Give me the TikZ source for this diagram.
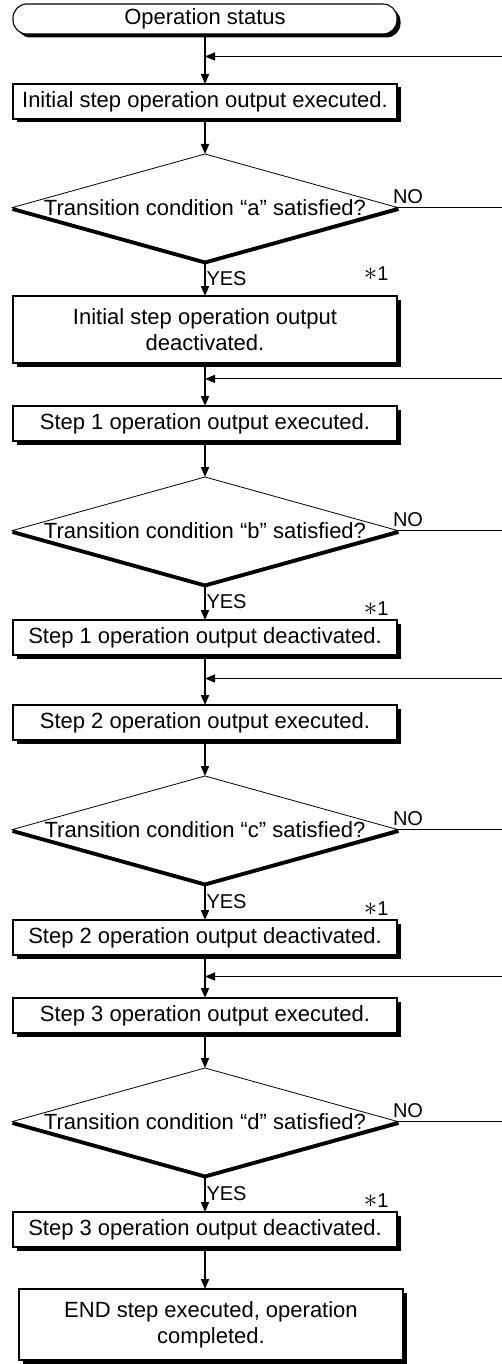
\documentclass[tikz,border=0pt]{standalone}
\usepackage{fontspec}
\setmainfont{Liberation Sans}
\usetikzlibrary{arrows.meta,positioning,shapes.geometric,shadows,calc}

\begin{document}
\begin{tikzpicture}[
  x=1pt,y=-1pt,
  node distance=36pt,
  font=\fontsize{22pt}{26pt}\selectfont,
  every node/.append style={outer sep=0pt},
  boxshadow/.style={drop shadow={shadow xshift=3.5pt,shadow yshift=-3.5pt,fill=black,opacity=1}},
  stepbox/.style={draw,line width=1.1pt,fill=white,boxshadow,minimum width=384pt,minimum height=35pt,inner sep=2pt,align=center},
  term/.style={stepbox,rounded corners=14pt,minimum height=30pt},
  cond/.style={draw,diamond,line width=0.8pt,fill=white,minimum width=385pt,minimum height=107pt,inner sep=0pt},
  condedge/.style={line width=3.6pt,line join=miter},
  flow/.style={line width=1.8pt,-{Triangle[length=10pt,width=8pt]}},
  back/.style={line width=1pt,-{Triangle[length=10pt,width=8pt]}},
  noline/.style={line width=1pt},
  tag/.style={inner sep=1.5pt,font=\fontsize{20pt}{24pt}\selectfont}
]
  \useasboundingbox (0,0) rectangle (502,1364);

  \node[term] (start) at (205,19) {Operation status};
  \node[stepbox,below=50pt of start] (b1) {Initial step operation output executed.};
  \node[cond,below=35pt of b1] (d1) {\makebox[0pt]{Transition condition “a” satisfied?}};
  \node[stepbox,below=35pt of d1,minimum height=67pt] (b2) {Initial step operation output\\deactivated.};
  \node[stepbox,below=43pt of b2] (b3) {Step 1 operation output executed.};
  \node[cond,below=36pt of b3] (d2) {\makebox[0pt]{Transition condition “b” satisfied?}};
  \node[stepbox,below=36pt of d2] (b4) {Step 1 operation output deactivated.};
  \node[stepbox,below=50pt of b4] (b5) {Step 2 operation output executed.};
  \node[cond,below=36pt of b5] (d3) {\makebox[0pt]{Transition condition “c” satisfied?}};
  \node[stepbox,below=37pt of d3] (b6) {Step 2 operation output deactivated.};
  \node[stepbox,below=43pt of b6] (b7) {Step 3 operation output executed.};
  \node[cond,below=35pt of b7] (d4) {\makebox[0pt]{Transition condition “d” satisfied?}};
  \node[stepbox,below=37pt of d4] (b8) {Step 3 operation output deactivated.};
  \node[stepbox,below=42pt of b8,minimum height=71pt,xshift=6pt] (b9) {END step executed, operation\\completed.};

  \node[tag,anchor=south east] (n1) at ([xshift=-7pt,yshift=14pt]b2.north east) {\scalebox{1.3}{$\ast$}1};
  \node[tag,anchor=south east] (n2) at ([xshift=-7pt,yshift=3pt]b4.north east) {\scalebox{1.3}{$\ast$}1};
  \node[tag,anchor=south east] (n3) at ([xshift=-7pt,yshift=3pt]b6.north east) {\scalebox{1.3}{$\ast$}1};
  \node[tag,anchor=south east] (n4) at ([xshift=-7pt,yshift=3pt]b8.north east) {\scalebox{1.3}{$\ast$}1};

  \coordinate (edge) at (502,0);
  \coordinate (j1) at ($(start.south)!.45!(b1.north)$);
  \coordinate (j2) at ($(b2.south)!.37!(b3.north)$);
  \coordinate (j3) at ($(b4.south)!.47!(b5.north)$);
  \coordinate (j4) at ($(b6.south)!.5!(b7.north)$);
  \foreach \k in {1,2,3,4}{
    \coordinate (in\k) at (edge |- j\k);
    \coordinate (out\k) at (edge |- d\k.east);
    \draw[condedge] ([yshift=-1.6pt]d\k.west) -- ([yshift=-1.6pt]d\k.south) -- ([xshift=1pt,yshift=-1.6pt]d\k.east);
  }

  \draw[flow] (start) -- (b1);
  \draw[flow] (b1) -- (d1);
  \draw[flow] (d1) -- node[tag,right] (yes1) {YES} (b2);
  \draw[flow] (b2) -- (b3);
  \draw[flow] (b3) -- (d2);
  \draw[flow] (d2) -- node[tag,right] (yes2) {YES} (b4);
  \draw[flow] (b4) -- (b5);
  \draw[flow] (b5) -- (d3);
  \draw[flow] (d3) -- node[tag,right] (yes3) {YES} (b6);
  \draw[flow] (b6) -- (b7);
  \draw[flow] (b7) -- (d4);
  \draw[flow] (d4) -- node[tag,right] (yes4) {YES} (b8);
  \draw[flow] (b8) -- (b8 |- b9.north);

  \foreach \k in {1,2,3,4}{
    \draw[back] (in\k) -- (j\k);
    \draw[noline] (d\k.east) -- node[tag,pos=0,anchor=south west,xshift=-6pt,yshift=2pt] (no\k) {NO} (out\k);
  }
\end{tikzpicture}
\end{document}
